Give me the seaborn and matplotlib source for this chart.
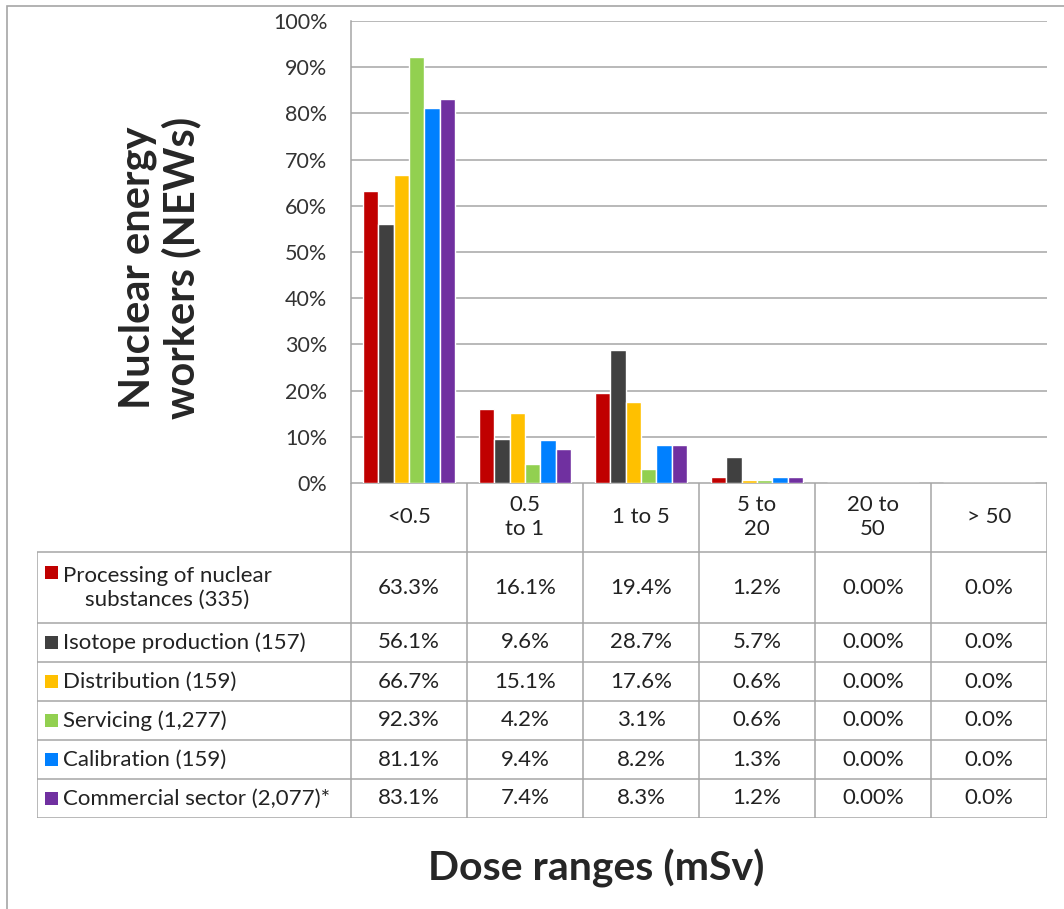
import numpy as np
import pandas as pd
import seaborn as sns
import matplotlib
matplotlib.use('Agg')
import matplotlib.pyplot as plt
from matplotlib.patches import Rectangle

dose_ranges = ["<0.5", "0.5\nto 1", "1 to 5", "5 to\n20", "20 to\n50", "> 50"]
sectors = ["Processing of nuclear\nsubstances (335)", "Isotope production (157)",
           "Distribution (159)", "Servicing (1,277)", "Calibration (159)",
           "Commercial sector (2,077)*"]
processing = [63.3, 16.1, 19.4, 1.2, 0.0, 0.0]
isotope = [56.1, 9.6, 28.7, 5.7, 0.0, 0.0]
distribution = [66.7, 15.1, 17.6, 0.6, 0.0, 0.0]
servicing = [92.3, 4.2, 3.1, 0.6, 0.0, 0.0]
calibration = [81.1, 9.4, 8.2, 1.3, 0.0, 0.0]
commercial = [83.1, 7.4, 8.3, 1.2, 0.0, 0.0]
col_decimals = [1, 1, 1, 1, 2, 1]
colors = ["#C00000", "#404040", "#FFC000", "#92D050", "#0080FF", "#7030A0"]

series = [processing, isotope, distribution, servicing, calibration, commercial]

sns.set_style("white")
plt.rcParams['font.family'] = ['Lato', 'DejaVu Sans']

W, H = 1064, 909
fs = 16  # table font size
fig = plt.figure(figsize=(W / 100, H / 100), dpi=100)

# outer chart frame
fig.patches.append(Rectangle((7 / W, -0.1), 1.2, 1 - 6 / H + 0.1, transform=fig.transFigure,
                             fill=False, edgecolor="#A6A6A6", lw=1.2))

# bar area
ax = fig.add_axes([351 / W, 1 - 483 / H, (1047 - 351) / W, (483 - 21) / H])
rows = []
for name, vals in zip(sectors, series):
    for d, v in zip(dose_ranges, vals):
        rows.append({"dose": d, "pct": v, "sector": name})
df = pd.DataFrame(rows)
sns.barplot(data=df, x="dose", y="pct", hue="sector", palette=colors, width=0.8,
            saturation=1, legend=False, ax=ax, zorder=3)
ax.set_xlim(-0.5, 5.5)
ax.set_ylim(0, 100)
ax.set_yticks(np.arange(0, 101, 10))
ax.set_yticklabels([f"{t}%" for t in range(0, 101, 10)])
ax.tick_params(axis="y", length=0, pad=17, labelsize=15.5, labelcolor="#333333")
ax.tick_params(axis="x", bottom=False, labelbottom=False)
ax.set_xlabel("")
ax.set_ylabel("")
ax.grid(axis="y", color="#A6A6A6", lw=1.1, zorder=0)
for s in ["top", "right", "bottom"]:
    ax.spines[s].set_visible(False)
ax.spines["left"].set_color("#A6A6A6")
ax.spines["left"].set_linewidth(1.1)

# data table under the bars
tx = fig.add_axes([37 / W, 1 - 818 / H, (1047 - 37) / W, (818 - 483) / H])
x0 = -0.5 - (351 - 37) / 116
tx.set_xlim(x0, 5.5)
tx.set_ylim(818, 483)
tx.axis("off")

lc = "#A6A6A6"
row_edges = [552, 623, 662, 701, 740, 779, 818]
# header
tx.hlines(483, -0.5, 5.5, color=lc, lw=1.1)
for i in range(7):
    tx.vlines(i - 0.5, 483, 552, color=lc, lw=1.1)
for i, lab in enumerate(dose_ranges):
    tx.text(i, 517, lab, ha="center", va="center", fontsize=fs, color="#222222",
            linespacing=1.2)
# body
for y in row_edges:
    tx.hlines(y, x0, 5.5, color=lc, lw=1.1)
tx.vlines(x0, 552, 818, color=lc, lw=1.1)
for i in range(7):
    tx.vlines(i - 0.5, 552, 818, color=lc, lw=1.1)

key_w = 13 / 116
for r, (name, vals, c) in enumerate(zip(sectors, series, colors)):
    yc = (row_edges[r] + row_edges[r + 1]) / 2
    ky = 572 if r == 0 else yc
    tx.add_patch(Rectangle((x0 + 8 / 116, ky - 6.5), key_w, 13, color=c, lw=0))
    tx.text(x0 + 26 / 116, yc, name, ha="left", va="center", fontsize=fs,
            color="#222222", multialignment="center", linespacing=1.25)
    for i, v in enumerate(vals):
        tx.text(i, yc, f"{v:.{col_decimals[i]}f}%", ha="center", va="center",
                fontsize=fs, color="#222222")

# axis titles
fig.text(160 / W, 1 - 268 / H, "Nuclear energy\nworkers (NEWs)", rotation=90,
         ha="center", va="center", fontsize=30, fontweight="bold", linespacing=1.15)
fig.text(596 / W, 1 - 868 / H, "Dose ranges (mSv)", ha="center", va="center",
         fontsize=29.5, fontweight="bold")

fig.savefig("out.png", dpi=100, facecolor="white")
